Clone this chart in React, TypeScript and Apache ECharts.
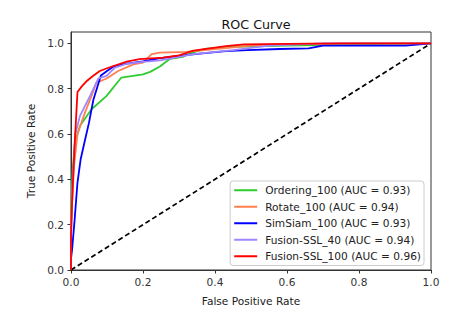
import React, { useEffect, useRef } from "react";
import * as echarts from "echarts";

const xTicks = [0, 0.2, 0.4, 0.6, 0.8, 1.0];
const yTicks = [0, 0.2, 0.4, 0.6, 0.8, 1.0];

const orderingFpr = [0, 0, 0.005, 0.011, 0.025, 0.057, 0.099, 0.14, 0.2, 0.22, 0.247, 0.275, 0.31, 0.33, 0.37, 0.45, 0.6, 0.8, 1.0];
const orderingTpr = [0, 0.25, 0.45, 0.56, 0.636, 0.709, 0.768, 0.849, 0.863, 0.874, 0.898, 0.932, 0.94, 0.955, 0.975, 0.985, 0.99, 0.995, 1.0];

const rotateFpr = [0, 0, 0.008, 0.018, 0.04, 0.06, 0.071, 0.099, 0.131, 0.173, 0.2, 0.224, 0.247, 0.32, 0.4, 0.5, 0.6, 0.8, 1.0];
const rotateTpr = [0, 0.2, 0.45, 0.6, 0.7, 0.78, 0.827, 0.845, 0.878, 0.907, 0.915, 0.952, 0.959, 0.962, 0.975, 0.99, 0.995, 1.0, 1.0];

const simsiamFpr = [0, 0, 0.003, 0.01, 0.018, 0.027, 0.037, 0.05, 0.062, 0.083, 0.1, 0.118, 0.155, 0.2, 0.247, 0.3, 0.358, 0.43, 0.49, 0.58, 0.66, 0.7, 0.93, 1.0];
const simsiamTpr = [0, 0.05, 0.09, 0.22, 0.386, 0.49, 0.56, 0.65, 0.75, 0.858, 0.878, 0.898, 0.91, 0.92, 0.935, 0.945, 0.955, 0.966, 0.97, 0.975, 0.978, 0.99, 0.99, 1.0];

const fusion40Fpr = [0, 0, 0.005, 0.012, 0.025, 0.053, 0.076, 0.099, 0.122, 0.155, 0.2, 0.247, 0.3, 0.34, 0.45, 0.55, 0.7, 1.0];
const fusion40Tpr = [0, 0.15, 0.4, 0.6, 0.68, 0.768, 0.845, 0.856, 0.893, 0.91, 0.918, 0.925, 0.94, 0.952, 0.97, 0.99, 1.0, 1.0];

const fusion100Fpr = [0, 0, 0.003, 0.01, 0.018, 0.03, 0.044, 0.06, 0.08, 0.1, 0.118, 0.155, 0.19, 0.256, 0.3, 0.34, 0.43, 0.48, 0.6, 0.75, 1.0];
const fusion100Tpr = [0, 0.15, 0.3, 0.55, 0.785, 0.81, 0.834, 0.855, 0.878, 0.89, 0.9, 0.919, 0.93, 0.937, 0.947, 0.968, 0.988, 0.995, 0.998, 1.0, 1.0];

const diagX = [0, 1];
const diagY = [0, 1];

const seriesNames = [
  "Ordering_100 (AUC = 0.93)",
  "Rotate_100 (AUC = 0.94)",
  "SimSiam_100 (AUC = 0.93)",
  "Fusion-SSL_40 (AUC = 0.94)",
  "Fusion-SSL_100 (AUC = 0.96)",
];
const seriesColors = ["#2ecc2e", "#ff7f50", "#0000ff", "#9f86ff", "#ff0000"];
const seriesX = [orderingFpr, rotateFpr, simsiamFpr, fusion40Fpr, fusion100Fpr];
const seriesY = [orderingTpr, rotateTpr, simsiamTpr, fusion40Tpr, fusion100Tpr];

const FONT = "DejaVu Sans";
const FS = 10.6;

export default function App() {
  const ref = useRef<HTMLDivElement>(null);
  useEffect(() => {
    if (!ref.current) return;
    const chart = echarts.init(ref.current, undefined, { renderer: "svg" });
    const zip = (xs: number[], ys: number[]) => xs.map((x, i) => [x, ys[i]]);
    const lines: any[] = seriesNames.map((name, i) => ({
      name,
      type: "line",
      data: zip(seriesX[i], seriesY[i]),
      showSymbol: false,
      symbol: "none",
      lineStyle: { color: seriesColors[i], width: 1.8 },
      itemStyle: { color: seriesColors[i] },
      z: 3 + i,
    }));
    lines.push({
      name: "diag",
      type: "line",
      data: zip(diagX, diagY),
      showSymbol: false,
      symbol: "none",
      lineStyle: { color: "#000", width: 1.7, type: [5, 3] },
      z: 2,
    });
    chart.setOption({
      animation: false,
      backgroundColor: "#fff",
      textStyle: { fontFamily: FONT },
      title: {
        text: "ROC Curve",
        left: 251,
        textAlign: "center",
        top: 13,
        textStyle: { fontFamily: FONT, fontSize: 12.7, fontWeight: "normal", color: "#111" },
      },
      grid: {
        left: 71,
        right: 24,
        top: 32,
        bottom: 40,
        show: true,
        borderColor: "#333",
        borderWidth: 1,
        backgroundColor: "#fff",
      },
      legend: {
        data: seriesNames,
        orient: "vertical",
        right: 31,
        top: 181,
        icon: "rect",
        itemWidth: 23,
        itemHeight: 2,
        itemGap: 4,
        padding: [3, 3, 3, 4],
        backgroundColor: "#fff",
        borderColor: "#ccc",
        borderWidth: 1,
        borderRadius: 3,
        textStyle: { fontFamily: FONT, fontSize: FS, color: "#222", lineHeight: 12.5, padding: [0, 0, 0, 3] },
      },
      xAxis: {
        type: "value",
        min: 0,
        max: 1,
        name: "False Positive Rate",
        nameLocation: "middle",
        nameGap: 25,
        nameTextStyle: { fontFamily: FONT, fontSize: FS, color: "#222" },
        axisLine: { show: true, lineStyle: { color: "#333" } },
        axisTick: { show: true, length: 3.5, lineStyle: { color: "#333" }, customValues: xTicks },
        axisLabel: {
          fontFamily: FONT,
          fontSize: FS,
          color: "#333",
          margin: 6,
          customValues: xTicks,
          formatter: (v: number) => v.toFixed(1),
        },
        splitLine: { show: false },
      },
      yAxis: {
        type: "value",
        min: 0,
        max: 1.05,
        name: "True Positive Rate",
        nameLocation: "middle",
        nameGap: 26,
        nameTextStyle: { fontFamily: FONT, fontSize: FS, color: "#222" },
        axisLine: { show: true, lineStyle: { color: "#333" } },
        axisTick: { show: true, length: 3.5, lineStyle: { color: "#333" }, customValues: yTicks },
        axisLabel: {
          fontFamily: FONT,
          fontSize: FS,
          color: "#333",
          margin: 7,
          customValues: yTicks,
          formatter: (v: number) => v.toFixed(1),
        },
        splitLine: { show: false },
      },
      series: lines,
    });
    return () => chart.dispose();
  }, []);
  return <div ref={ref} style={{ width: 455, height: 311, position: "absolute", left: 0, top: 0 }} />;
}
